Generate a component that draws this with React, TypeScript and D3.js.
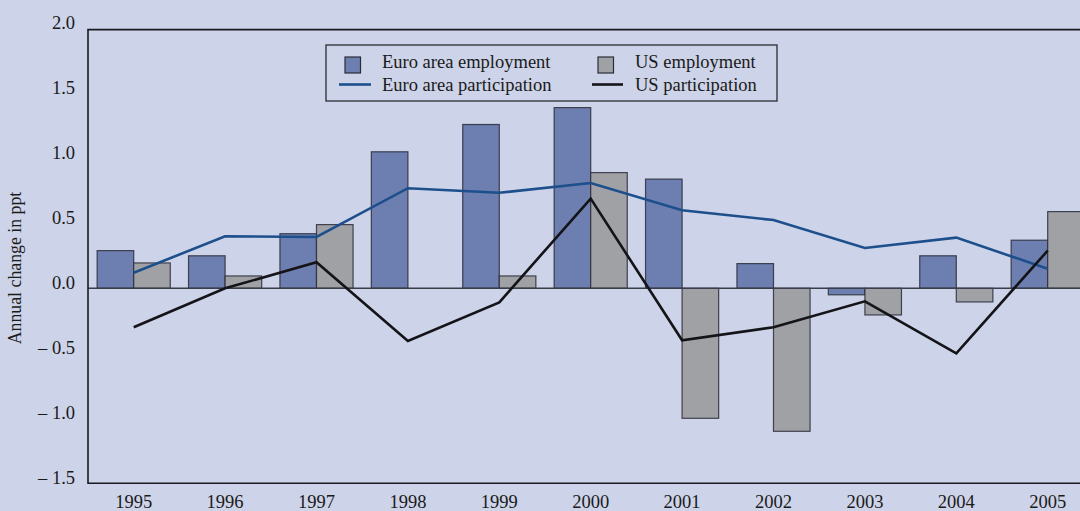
import React from "react";
import * as d3 from "d3";

const years = ["1995","1996","1997","1998","1999","2000","2001","2002","2003","2004","2005"];
const euroEmployment = [0.29, 0.25, 0.42, 1.05, 1.26, 1.39, 0.84, 0.19, -0.05, 0.25, 0.37];
const usEmployment = [0.195, 0.095, 0.49, 0, 0.095, 0.89, -1.0, -1.10, -0.205, -0.105, 0.59];
const euroParticipation = [0.12, 0.40, 0.395, 0.77, 0.735, 0.81, 0.60, 0.525, 0.31, 0.39, 0.15];
const usParticipation = [-0.30, 0.0, 0.20, -0.405, -0.108, 0.69, -0.40, -0.30, -0.10, -0.50, 0.29];
const yTicks = [-1.5, -1.0, -0.5, 0, 0.5, 1.0, 1.5, 2.0];
const seriesKeys = ["euro", "us"];

const W = 1080, H = 511;
const left = 88, bottom = 483.3, top = 28.3;
const plotRight = left + 11 * 91.4;
const BG = "#cdd3e8";
const EURO_FILL = "#6d7eb0";
const US_FILL = "#a0a1a5";
const EURO_LINE = "#1d4f8c";
const US_LINE = "#141418";
const FONT = "'Liberation Serif', 'Times New Roman', serif";

export default function App() {
  const x = d3.scaleBand<string>().domain(years).range([left, plotRight]).paddingInner(0.2).paddingOuter(0.1).align(0.5);
  const xs = d3.scaleBand<string>().domain(seriesKeys).range([0, x.bandwidth()]);
  const y = d3.scaleLinear().domain([-1.5, 2.0]).range([bottom, top]);
  const cx = (yr: string) => (x(yr) as number) + x.bandwidth() / 2;
  const line = d3.line<number>().x((_, i) => cx(years[i])).y((d) => y(d));
  const fmt = (v: number) => (v < 0 ? "\u2013 " + Math.abs(v).toFixed(1) : v.toFixed(1));

  const lgX = 326, lgY = 45;
  return (
    <svg width={W} height={H} style={{ position: "absolute", left: 0, top: 0, display: "block" }}>
      <rect x={0} y={0} width={W} height={H} fill={BG} />
      {/* bars */}
      {years.map((yr, i) => {
        const x0 = x(yr) as number;
        const vals = [euroEmployment[i], usEmployment[i]];
        return vals.map((v, j) => {
          if (v === 0) return null;
          const y0 = y(Math.max(0, v));
          const h = Math.abs(y(v) - y(0));
          return (
            <rect key={yr + j} x={x0 + (xs(seriesKeys[j]) as number)} y={y0} width={xs.bandwidth()} height={h}
              fill={j === 0 ? EURO_FILL : US_FILL} stroke="#2a2c38" strokeOpacity={0.85} strokeWidth={1.2} />
          );
        });
      })}
      {/* zero line */}
      <line x1={left} x2={plotRight} y1={y(0)} y2={y(0)} stroke="#3a3d4a" strokeWidth={1.5} />
      {/* lines */}
      <path d={line(euroParticipation) || ""} fill="none" stroke={EURO_LINE} strokeWidth={2.6} strokeLinejoin="miter" />
      <path d={line(usParticipation) || ""} fill="none" stroke={US_LINE} strokeWidth={2.6} strokeLinejoin="miter" />
      {/* frame */}
      <path d={`M${plotRight},${y(2) + 1.3}H${left}V${bottom}H${plotRight}`} fill="none" stroke="#1a1a22" strokeWidth={1.6} />
      {/* y ticks */}
      {yTicks.map((t) => (
        <text key={t} x={75} y={y(t) + 1} textAnchor="end" fontFamily={FONT} fontSize={18.5} fill="#1a1a1a">{fmt(t)}</text>
      ))}
      {/* x labels */}
      {years.map((yr) => (
        <text key={yr} x={cx(yr)} y={508} textAnchor="middle" fontFamily={FONT} fontSize={18.5} fill="#1a1a1a">{yr}</text>
      ))}
      {/* y title */}
      <text transform={`translate(21,268) rotate(-90)`} textAnchor="middle" fontFamily={FONT} fontSize={17.8} fill="#1a1a1a">Annual change in ppt</text>
      {/* legend */}
      <rect x={lgX} y={lgY} width={451} height={56} fill={BG} stroke="#2a2a30" strokeWidth={1.3} />
      <rect x={lgX + 19} y={lgY + 12} width={15.5} height={16} fill={EURO_FILL} stroke="#2a2c38" strokeWidth={1.2} />
      <text x={lgX + 56} y={lgY + 23} fontFamily={FONT} fontSize={18.5} fill="#1a1a1a">Euro area employment</text>
      <line x1={lgX + 13} x2={lgX + 45} y1={lgY + 39.5} y2={lgY + 39.5} stroke={EURO_LINE} strokeWidth={2.6} />
      <text x={lgX + 56} y={lgY + 46} fontFamily={FONT} fontSize={18.5} fill="#1a1a1a">Euro area participation</text>
      <rect x={lgX + 272} y={lgY + 12} width={15.5} height={16} fill={US_FILL} stroke="#2a2c38" strokeWidth={1.2} />
      <text x={lgX + 309} y={lgY + 23} fontFamily={FONT} fontSize={18.5} fill="#1a1a1a">US employment</text>
      <line x1={lgX + 266} x2={lgX + 297} y1={lgY + 39.5} y2={lgY + 39.5} stroke={US_LINE} strokeWidth={2.6} />
      <text x={lgX + 309} y={lgY + 46} fontFamily={FONT} fontSize={18.5} fill="#1a1a1a">US participation</text>
    </svg>
  );
}
